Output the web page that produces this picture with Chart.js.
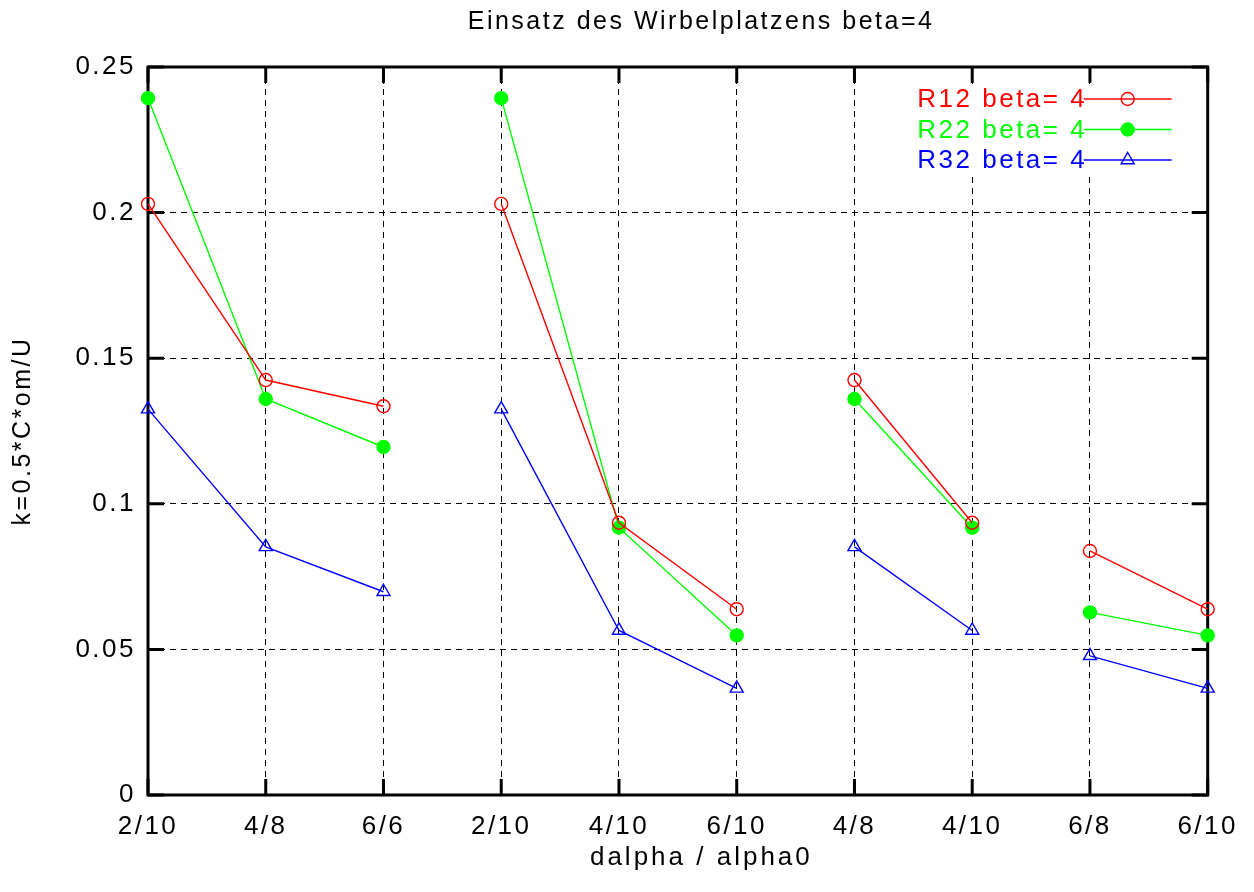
<!DOCTYPE html>
<html><head><meta charset="utf-8">
<script src="https://cdn.jsdelivr.net/npm/chart.js@4/dist/chart.umd.min.js"></script>
<style>html,body{margin:0;padding:0;background:#fff}#wrap{width:1254px;height:892px}</style>
</head><body><div id="wrap"><canvas id="c" width="1254" height="892"></canvas></div>
<script>
const categories = ['2/10','4/8','6/6','2/10','4/10','6/10','4/8','4/10','6/8','6/10'];
const segmentGroups = [0,0,0,1,1,1,2,2,3,3];
const seriesNames = ['R12 beta= 4','R22 beta= 4','R32 beta= 4'];
const r12 = [0.203, 0.1425, 0.1335, 0.203, 0.0935, 0.0638, 0.1425, 0.0935, 0.0838, 0.0638];
const r22 = [0.2393, 0.136, 0.1195, 0.2393, 0.0918, 0.0548, 0.136, 0.0918, 0.0627, 0.0548];
const r32 = [0.1325, 0.0852, 0.0698, 0.1325, 0.0565, 0.0366, 0.0852, 0.0565, 0.0478, 0.0366];
const yTickLabels = ['0','0.05','0.1','0.15','0.2','0.25'];
const chartTitle = 'Einsatz des Wirbelplatzens beta=4';
const xTitle = 'dalpha / alpha0';
const yTitle = 'k=0.5*C*om/U';

const FONT = '"Liberation Sans", Arial, Helvetica, sans-serif';
const LS = 2.5;
function setLS(chart, v){ if ('letterSpacing' in chart.ctx) chart.ctx.letterSpacing = (v === undefined ? LS : v) + 'px'; }

function mk(label, data, color, style, filled, radius) {
  return {
    label, data, borderColor: color, backgroundColor: color, borderWidth: 1.4,
    pointStyle: style, pointRadius: radius, pointHoverRadius: radius,
    pointBorderColor: color, pointBackgroundColor: filled ? color : 'rgba(0,0,0,0)',
    pointBorderWidth: 1.4, tension: 0, fill: false, spanGaps: false,
    _filled: filled,
    segment: { borderColor: c => segmentGroups[c.p0DataIndex] !== segmentGroups[c.p1DataIndex] ? 'rgba(0,0,0,0)' : color }
  };
}

const lsPlugin = {
  id: 'ls',
  beforeUpdate: c => setLS(c), beforeLayout: c => setLS(c), beforeDraw: c => setLS(c)
};

const framePlugin = {
  id: 'frame',
  beforeDatasetsDraw(chart) {
    const {ctx, chartArea: {left, right, top, bottom}, scales: {x, y}} = chart;
    ctx.save();
    ctx.setLineDash([]);
    ctx.strokeStyle = '#000';
    ctx.lineWidth = 3;
    ctx.strokeRect(left, top, right - left, bottom - top);
    ctx.beginPath();
    const tl = 16;
    for (let i = 0; i < x.ticks.length; i++) {
      const px = x.getPixelForTick(i);
      ctx.moveTo(px, bottom); ctx.lineTo(px, bottom - tl);
      ctx.moveTo(px, top); ctx.lineTo(px, top + tl);
    }
    for (let j = 0; j < y.ticks.length; j++) {
      const py = y.getPixelForTick(j);
      ctx.moveTo(left, py); ctx.lineTo(left + tl, py);
      ctx.moveTo(right, py); ctx.lineTo(right - tl, py);
    }
    ctx.stroke();
    ctx.restore();
  }
};

const textPlugin = {
  id: 'texts',
  afterDraw(chart) {
    const {ctx, chartArea: {left, right, bottom}} = chart;
    ctx.save();
    ctx.fillStyle = '#000';
    ctx.textAlign = 'center';
    ctx.textBaseline = 'middle';
    const cx = (left + right) / 2 + 22;
    setLS(chart, 2.5);
    ctx.font = '25px ' + FONT;
    ctx.fillText(chartTitle, cx + 1.25, 22);
    setLS(chart, 3);
    ctx.font = '26px ' + FONT;
    ctx.fillText(xTitle, cx + 1.5, bottom + 63);
    ctx.restore();
  }
};

function drawMarker(ctx, style, filled, r, x, y, color) {
  ctx.beginPath();
  if (style === 'triangle') {
    let rad = 0;
    ctx.moveTo(x + Math.sin(rad) * r, y - Math.cos(rad) * r);
    rad += 2 * Math.PI / 3;
    ctx.lineTo(x + Math.sin(rad) * r, y - Math.cos(rad) * r);
    rad += 2 * Math.PI / 3;
    ctx.lineTo(x + Math.sin(rad) * r, y - Math.cos(rad) * r);
    ctx.closePath();
  } else {
    ctx.arc(x, y, r, 0, Math.PI * 2);
  }
  if (filled) { ctx.fillStyle = color; ctx.fill(); }
  ctx.strokeStyle = color; ctx.lineWidth = 1.4; ctx.stroke();
}

const keyPlugin = {
  id: 'key',
  afterDatasetsDraw(chart) {
    const {ctx, chartArea: {right, top}} = chart;
    ctx.save();
    setLS(chart);
    ctx.setLineDash([]);
    ctx.fillStyle = '#fff';
    ctx.fillRect(right - 306, top + 17, 290, 88);
    ctx.font = '26px ' + FONT;
    ctx.textAlign = 'right';
    ctx.textBaseline = 'middle';
    chart.data.datasets.forEach((ds, i) => {
      const yy = top + 32 + i * 30.5;
      ctx.fillStyle = ds.borderColor;
      ctx.fillText(ds.label, right - 123 + LS, yy + 1);
      ctx.strokeStyle = ds.borderColor;
      ctx.lineWidth = 1.4;
      ctx.beginPath();
      ctx.moveTo(right - 124, yy); ctx.lineTo(right - 36, yy);
      ctx.stroke();
      drawMarker(ctx, ds.pointStyle, ds._filled, ds.pointRadius, right - 80, yy, ds.borderColor);
    });
    ctx.restore();
  }
};

const gridCommon = { color: '#000', lineWidth: 1, drawTicks: false };

new Chart(document.getElementById('c'), {
  type: 'line',
  data: {
    labels: categories,
    datasets: [
      mk(seriesNames[0], r12, '#ff0000', 'circle', false, 6.5),
      mk(seriesNames[1], r22, '#00ff00', 'circle', true, 6.5),
      mk(seriesNames[2], r32, '#0000ff', 'triangle', false, 7.5)
    ]
  },
  options: {
    responsive: false,
    animation: false,
    devicePixelRatio: 1,
    layout: { padding: { left: 0, right: 43, top: 67, bottom: 0 } },
    plugins: {
      legend: { display: false },
      tooltip: { enabled: false },
      title: { display: false }
    },
    scales: {
      x: {
        type: 'category',
        offset: false,
        grid: gridCommon,
        border: { display: false, dash: [6, 5] },
        ticks: { color: '#000', font: { family: FONT, size: 26 }, padding: 16, autoSkip: false, maxRotation: 0 },
        title: { display: false },
        afterFit(s) { s.height = 97; }
      },
      y: {
        min: 0, max: 0.25,
        grid: gridCommon,
        border: { display: false, dash: [6, 5] },
        ticks: { stepSize: 0.05, color: '#000', font: { family: FONT, size: 26 }, padding: 12,
          callback: (v, i) => yTickLabels[i] },
        title: { display: true, text: yTitle, color: '#000', font: { family: FONT, size: 25 }, padding: { top: 8, bottom: 0 } },
        afterFit(s) { s.width = 148; }
      }
    }
  },
  plugins: [lsPlugin, framePlugin, keyPlugin, textPlugin]
});
</script>
</body></html>
